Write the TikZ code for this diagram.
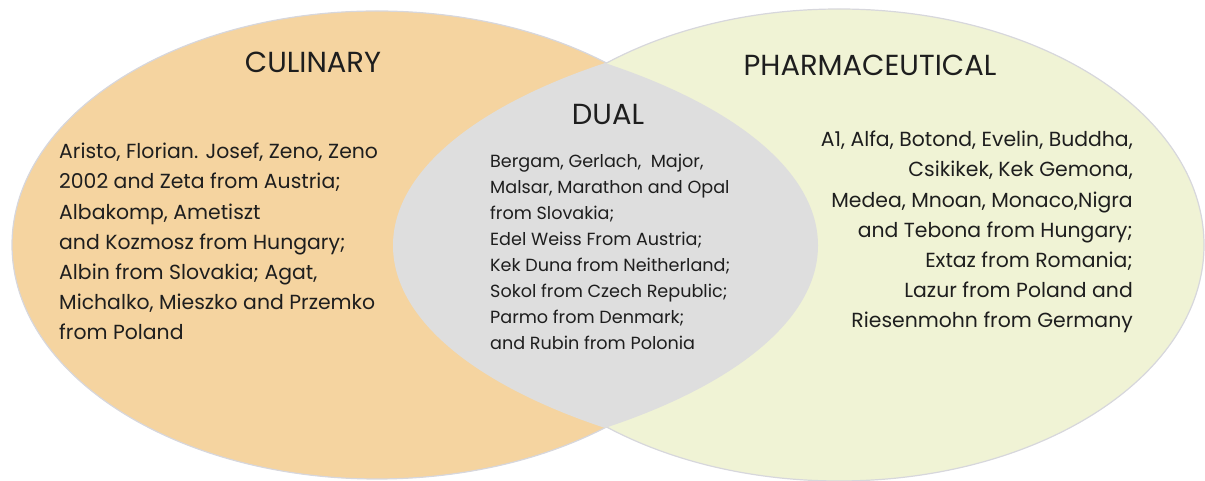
\documentclass[tikz,border=0pt]{standalone}
\usepackage{fontspec}
\setmainfont{Poppins}
\usetikzlibrary{positioning}
\definecolor{culinaryfill}{RGB}{245,212,160}
\definecolor{pharmafill}{RGB}{240,243,213}
\definecolor{dualfill}{RGB}{222,222,222}
\definecolor{rimgray}{RGB}{215,215,220}
\definecolor{inkgray}{RGB}{30,30,30}

\begin{document}
\begin{tikzpicture}[x=1pt,y=1pt,
    title/.style={anchor=base,inner sep=0pt,text=inkgray,font=\fontsize{29}{34}\selectfont},
    bodytext/.style={inner sep=0pt,text=inkgray,font=\fontsize{20.4}{30.2}\selectfont},
    dualtext/.style={inner sep=0pt,text=inkgray,font=\fontsize{17.6}{26}\selectfont}]
        \useasboundingbox (0,0) rectangle (1205,481);
        % the two sets
        \fill[culinaryfill,draw=rimgray,line width=1.2pt] (377,236) ellipse (365 and 234);
        \fill[pharmafill,draw=rimgray,line width=1.2pt] (839,236) ellipse (365 and 236);
        % the dual lens
        \begin{scope}
            \clip (248,235.5) ellipse (570 and 234);
            \fill[dualfill] (960,235.5) ellipse (567 and 234);
        \end{scope}
        % titles
        \node[title] (cultitle) at (313,408) {CULINARY};
        \node[title] (pharmtitle) at (870,405) {PHARMACEUTICAL};
        \node[title] (dualtitle) at (608,356) {DUAL};
        % lists (base = last line)
        \node[bodytext,anchor=base west,align=left] (cullist) at (59,141) {Aristo, Florian. Josef, Zeno, Zeno\\2002 and Zeta from Austria;\\Albakomp, Ametiszt\\and Kozmosz from Hungary;\\Albin from Slovakia; Agat,\\Michalko, Mieszko and Przemko\\from Poland};
        \node[dualtext,anchor=base west,align=left] (duallist) at (490,131) {Bergam, Gerlach,\ \ Major,\\Malsar, Marathon and Opal\\from Slovakia;\\Edel Weiss From Austria;\\Kek Duna from Neitherland;\\Sokol from Czech Republic;\\Parmo from Denmark;\\and Rubin from Polonia};
        \node[bodytext,anchor=base east,align=right] (pharmlist) at (1133,153) {A1, Alfa, Botond, Evelin, Buddha,\\Csikikek, Kek Gemona,\\Medea, Mnoan, Monaco,Nigra\\and Tebona from Hungary;\\Extaz from Romania;\\Lazur from Poland and\\Riesenmohn from Germany};
    \end{tikzpicture}
\end{document}
